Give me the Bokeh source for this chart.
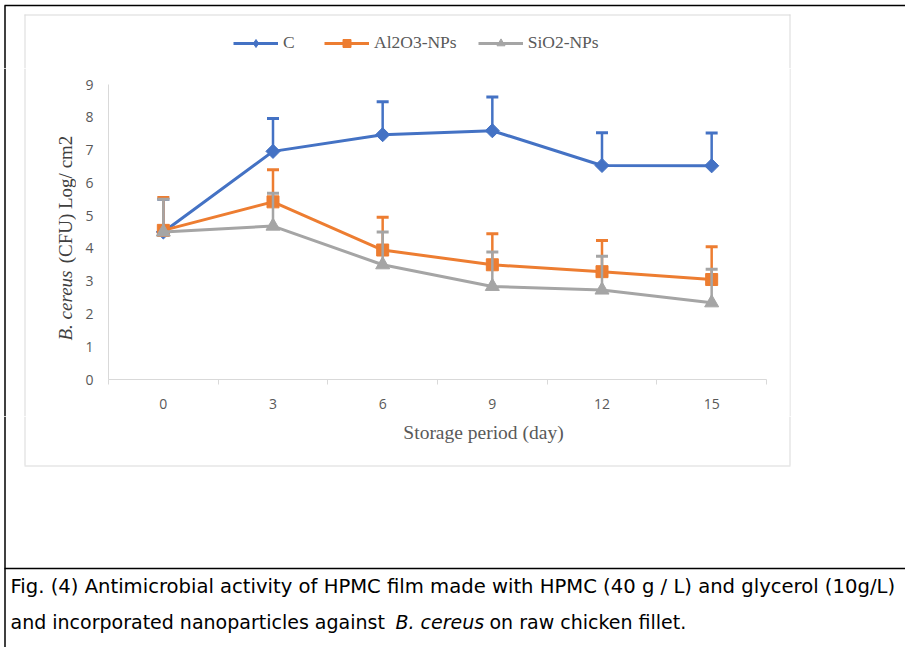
import math
from bokeh.plotting import figure
from bokeh.models import Range1d, FixedTicker, Legend, LegendItem
from bokeh.layouts import column, row
from bokeh.core.properties import value
from bokeh.embed import file_html
from bokeh.resources import INLINE

# ---------------- data ----------------
days = ["0", "3", "6", "9", "12", "15"]
series_names = ["C", "Al2O3-NPs", "SiO2-NPs"]
c_mean = [4.5, 6.96, 7.47, 7.59, 6.53, 6.52]
c_err = [1.0, 1.0, 1.0, 1.03, 1.0, 1.0]
al_mean = [4.55, 5.42, 3.95, 3.5, 3.29, 3.05]
al_err = [1.0, 0.98, 1.0, 0.95, 0.95, 1.0]
si_mean = [4.5, 4.68, 3.5, 2.84, 2.73, 2.34]
si_err = [1.0, 1.0, 1.0, 1.05, 1.03, 1.02]
y_ticks = [0, 1, 2, 3, 4, 5, 6, 7, 8, 9]

x_title = "Storage period (day)"
y_title_italic = "B. cereus"
y_title_rest = "(CFU) Log/ cm2"
caption_1 = "Fig. (4) Antimicrobial activity of HPMC film made with HPMC (40 g / L) and glycerol (10g/L)"
caption_2a = "and incorporated nanoparticles against"
caption_2b = "B. cereus"
caption_2c = "on raw chicken fillet."

colors = ["#4472C4", "#ED7D31", "#A5A5A5"]
GRAY_AX = "#d9d9d9"
TXT = "#595959"

W, H = 905, 647
TOP_H = 68          # top strip   y: 0..68
MID_H = 348         # chart strip y: 68..416
BOT_H = H - TOP_H - MID_H
LEFT_W = 76         # x: 0..76
CHART_W = 713       # x: 76..789
RIGHT_W = W - LEFT_W - CHART_W


def deco(x0, x1, y0, y1):
    """A plain drawing surface whose data units are the picture's pixels."""
    f = figure(width=x1 - x0, height=y1 - y0,
               x_range=Range1d(x0, x1), y_range=Range1d(y1, y0),
               x_axis_location=None, y_axis_location=None,
               output_backend="svg", toolbar_location=None,
               min_border=0, outline_line_color=None, frame_align=False)
    f.grid.visible = False
    f.background_fill_color = "white"
    f.border_fill_color = "white"
    return f


# ---------------- top strip: legend ----------------
top = deco(0, W, 0, TOP_H)
top.segment(x0=[4], y0=[5], x1=[W], y1=[5], line_color="black", line_width=1.5)
top.segment(x0=[4.5], y0=[5], x1=[4.5], y1=[TOP_H], line_color="black", line_width=1.5)
top.segment(x0=[24], y0=[14.5], x1=[790], y1=[14.5], line_color=GRAY_AX, line_width=1)
top.segment(x0=[24.5, 789.5], y0=[14, 14], x1=[24.5, 789.5], y1=[TOP_H, TOP_H],
            line_color=GRAY_AX, line_width=1)

markers = ["square", "square", "triangle"]
legend_markers = ["diamond", "square", "triangle"]
angles = [math.pi / 4, 0.0, 0.0]
msizes = [10, 12, 14]

nan = float("nan")
items = []
for name, col, lmk in zip(series_names, colors, legend_markers):
    # legend proxies (no visible data of their own)
    lr = top.line(x=[nan], y=[nan], line_color=col, line_width=3)
    mr = top.scatter(x=[nan], y=[nan], marker=lmk, fill_color=col, line_color=col)
    items.append(LegendItem(label=name, renderers=[lr, mr]))
legend = Legend(items=items, orientation="horizontal", location=(233, 15),
                glyph_width=45, glyph_height=20, label_standoff=5, spacing=21,
                padding=0, margin=0, background_fill_alpha=0, border_line_color=None,
                label_text_font="Liberation Serif", label_text_font_size="17.5px",
                label_text_color=TXT)
top.add_layout(legend)

# ---------------- left strip: y title ----------------
left = deco(0, LEFT_W, TOP_H, TOP_H + MID_H)
left.segment(x0=[4.5], y0=[TOP_H], x1=[4.5], y1=[TOP_H + MID_H], line_color="black", line_width=1.5)
left.segment(x0=[24.5], y0=[TOP_H], x1=[24.5], y1=[TOP_H + MID_H], line_color=GRAY_AX, line_width=1)
left.text(x=[65], y=[305], text=[y_title_italic], angle=math.pi / 2,
          text_align="center", text_baseline="middle",
          text_font=value("Liberation Serif"), text_font_style="italic",
          text_font_size="19px", text_color="#404040")
left.text(x=[65], y=[199], text=[y_title_rest], angle=math.pi / 2,
          text_align="center", text_baseline="middle",
          text_font=value("Liberation Serif"), text_font_size="19px", text_color="#404040")

# ---------------- chart ----------------
n = len(days)
xs = [i + 0.5 for i in range(n)]
bounds = [float(i) for i in range(n + 1)]

p = figure(width=CHART_W, height=MID_H, x_range=Range1d(0, n), y_range=Range1d(0, 9),
           output_backend="svg", toolbar_location=None, frame_align=False,
           min_border_left=108 - LEFT_W, min_border_right=(LEFT_W + CHART_W) - 766,
           min_border_top=84 - TOP_H, min_border_bottom=(TOP_H + MID_H) - 379)
p.outline_line_color = None
p.grid.visible = False
p.background_fill_color = "white"
p.border_fill_color = "white"

xa = p.xaxis[0]
xa.ticker = FixedTicker(ticks=xs, minor_ticks=bounds)
xa.major_label_overrides = {x: d for x, d in zip(xs, days)}
xa.axis_line_color = GRAY_AX
xa.major_tick_line_color = None
xa.major_tick_in = 0
xa.major_tick_out = 0
xa.minor_tick_line_color = GRAY_AX
xa.minor_tick_in = 0
xa.minor_tick_out = 5
xa.major_label_standoff = 14
xa.major_label_text_font = "Open Sans"
xa.major_label_text_font_size = "14px"
xa.major_label_text_color = TXT

ya = p.yaxis[0]
ya.ticker = FixedTicker(ticks=y_ticks, minor_ticks=[])
ya.axis_line_color = GRAY_AX
ya.major_tick_line_color = None
ya.major_tick_in = 0
ya.major_tick_out = 0
ya.minor_tick_line_color = None
ya.major_label_standoff = 15
ya.major_label_text_font = "Open Sans"
ya.major_label_text_font_size = "14px"
ya.major_label_text_color = TXT

means = [c_mean, al_mean, si_mean]
errs = [c_err, al_err, si_err]
for col, mk, ang, ms, m, e in zip(colors, markers, angles, msizes, means, errs):
    p.line(xs, m, line_color=col, line_width=3)
    tops = [a + b for a, b in zip(m, e)]
    p.segment(x0=xs, y0=m, x1=xs, y1=tops, line_color=col, line_width=2.5)
    p.scatter(xs, tops, marker="dash", size=12, line_color=col, line_width=3)
    p.scatter(xs, m, marker=mk, size=ms, angle=ang, fill_color=col, line_color=col)

# ---------------- right strip ----------------
right = deco(LEFT_W + CHART_W, W, TOP_H, TOP_H + MID_H)
right.segment(x0=[789.5], y0=[TOP_H], x1=[789.5], y1=[TOP_H + MID_H], line_color=GRAY_AX, line_width=1)

# ---------------- bottom strip: x title, caption ----------------
y0b = TOP_H + MID_H
bot = deco(0, W, y0b, H)
bot.segment(x0=[4.5], y0=[y0b], x1=[4.5], y1=[H], line_color="black", line_width=1.5)
bot.segment(x0=[24.5, 789.5], y0=[y0b, y0b], x1=[24.5, 789.5], y1=[465, 465], line_color=GRAY_AX, line_width=1)
bot.segment(x0=[24], y0=[465.5], x1=[790], y1=[465.5], line_color=GRAY_AX, line_width=1)
bot.segment(x0=[4], y0=[568], x1=[W], y1=[568], line_color="black", line_width=1.5)
bot.text(x=[483], y=[432], text=[x_title], text_align="center", text_baseline="alphabetic",
         text_font=value("Liberation Serif"), text_font_size="19.5px", text_color=TXT)

CAP = value("DejaVu Sans")
bot.text(x=[10], y=[585.5], text=[caption_1], text_align="left", text_baseline="alphabetic",
         text_font=CAP, text_font_size="19.6px", text_color="black")
bot.text(x=[10], y=[621], text=[caption_2a], text_align="left", text_baseline="alphabetic",
         text_font=CAP, text_font_size="19px", text_color="black")
bot.text(x=[395], y=[621], text=[caption_2b], text_align="left", text_baseline="alphabetic",
         text_font=CAP, text_font_style="italic", text_font_size="19px", text_color="black")
bot.text(x=[489], y=[621], text=[caption_2c], text_align="left", text_baseline="alphabetic",
         text_font=CAP, text_font_size="19px", text_color="black")

layout = column(top, row(left, p, right), bot)
open("out.html", "w").write(file_html(layout, INLINE))
